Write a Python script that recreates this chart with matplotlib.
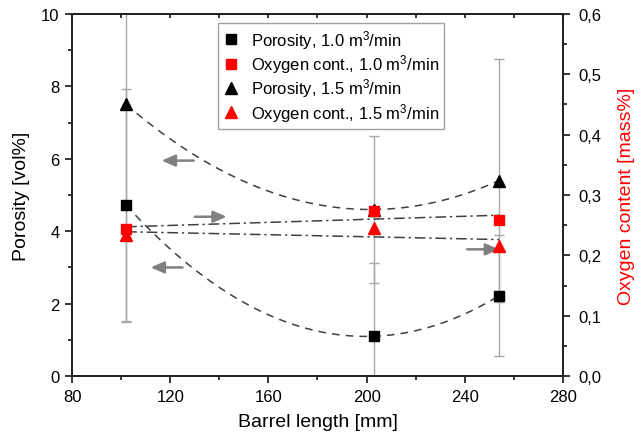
import numpy as np
import matplotlib
matplotlib.use("Agg")
import matplotlib.pyplot as plt
from matplotlib.ticker import MultipleLocator, FuncFormatter

plt.rcParams['font.family'] = ['Liberation Sans', 'DejaVu Sans']
plt.rcParams['mathtext.fontset'] = 'custom'
plt.rcParams['mathtext.rm'] = 'Liberation Sans'
plt.rcParams['mathtext.it'] = 'Liberation Sans:italic'
plt.rcParams['mathtext.default'] = 'regular'

# data
barrel = [102, 203, 254]
por_10 = [4.72, 1.1, 2.22]
por_10_err = [3.2, 2.03, 1.67]
por_15 = [7.5, 4.6, 5.4]
por_15_err = [6.0, 2.03, 3.35]
oxy_10 = [0.243, 0.273, 0.258]
oxy_15 = [0.234, 0.246, 0.216]

fig = plt.figure(figsize=(6.44, 4.39), dpi=100)
ax = fig.add_axes([0.112, 0.141, 0.762, 0.825])
ax2 = ax.twinx()

grey = '#a8a8a8'
ax.errorbar(barrel, por_10, yerr=por_10_err, fmt='none', ecolor=grey, elinewidth=1, capsize=3.5, zorder=1)
ax.errorbar(barrel, por_15, yerr=por_15_err, fmt='none', ecolor=grey, elinewidth=1, capsize=3.5, zorder=1)

# fit curves
xf = np.linspace(barrel[0], barrel[-1], 200)
for y in (por_10, por_15):
    c = np.polyfit(barrel, y, 2)
    ax.plot(xf, np.polyval(c, xf), color='#404040', ls=(0, (5, 4)), lw=1.1, zorder=2)
for y in (oxy_10, oxy_15):
    c = np.polyfit(barrel, y, 1)
    ax2.plot(xf, np.polyval(c, xf), color='#404040', ls=(0, (7, 2.5, 1.5, 2.5)), lw=1.1, zorder=2)

h1, = ax.plot(barrel, por_10, 's', color='black', ms=7, zorder=3, label='Porosity, 1.0 m$^3$/min')
h3, = ax.plot(barrel, por_15, '^', color='black', ms=8.5, zorder=3, label='Porosity, 1.5 m$^3$/min')
h2, = ax2.plot(barrel, oxy_10, 's', color='red', ms=7, zorder=3, label='Oxygen cont., 1.0 m$^3$/min')
h4, = ax2.plot(barrel, oxy_15, '^', color='red', ms=8.5, zorder=3, label='Oxygen cont., 1.5 m$^3$/min')

# direction arrows
arr = dict(arrowstyle='-|>,head_length=0.8,head_width=0.35', color='#808080', lw=1.8, shrinkA=0, shrinkB=0)
ax.annotate('', xy=(116.5, 5.95), xytext=(129.5, 5.95), arrowprops=arr)
ax.annotate('', xy=(143, 4.4), xytext=(130, 4.4), arrowprops=arr)
ax.annotate('', xy=(112, 3.0), xytext=(125, 3.0), arrowprops=arr)
ax.annotate('', xy=(254, 3.5), xytext=(241, 3.5), arrowprops=arr)

ax.set_xlim(80, 280)
ax.set_ylim(0, 10)
ax2.set_ylim(0, 0.6)
ax.xaxis.set_major_locator(MultipleLocator(40))
ax.xaxis.set_minor_locator(MultipleLocator(20))
ax.yaxis.set_major_locator(MultipleLocator(2))
ax.yaxis.set_minor_locator(MultipleLocator(1))
ax2.yaxis.set_major_locator(MultipleLocator(0.1))
ax2.yaxis.set_minor_locator(MultipleLocator(0.05))
ax2.yaxis.set_major_formatter(FuncFormatter(lambda v, p: ('%.1f' % v).replace('.', ',')))

ax.tick_params(which='both', direction='out', labelsize=12, width=1.1, pad=4)
ax.tick_params(which='major', length=5)
ax.tick_params(which='minor', length=3)
ax2.tick_params(which='both', direction='out', labelsize=12, width=1.1, pad=6)
ax2.tick_params(which='major', length=5)
ax2.tick_params(which='minor', length=3)

# top axis: small inward ticks, no labels
ax3 = ax.twiny()
ax3.set_xlim(ax.get_xlim())
ax3.xaxis.set_major_locator(MultipleLocator(40))
ax3.xaxis.set_minor_locator(MultipleLocator(20))
ax3.tick_params(which='both', direction='in', labeltop=False, width=1.1, length=3)

for a in (ax, ax2, ax3):
    for s in a.spines.values():
        s.set_linewidth(1.1)
        s.set_color('#222222')

ax.set_xlabel('Barrel length [mm]', fontsize=14, labelpad=7)
ax.set_ylabel('Porosity [vol%]', fontsize=14, labelpad=8)
ax2.set_ylabel('Oxygen content [mass%]', fontsize=14, color='red', labelpad=12)

leg = ax3.legend(handles=[h1, h2, h3, h4], loc='upper left', bbox_to_anchor=(0.297, 0.975),
                 fontsize=12, frameon=True, fancybox=False, handlelength=1.0,
                 handletextpad=0.7, borderpad=0.3, labelspacing=0.08, borderaxespad=0)
leg.get_frame().set_edgecolor('#888888')
leg.get_frame().set_linewidth(1.0)

fig.savefig('out.png', dpi=100)
